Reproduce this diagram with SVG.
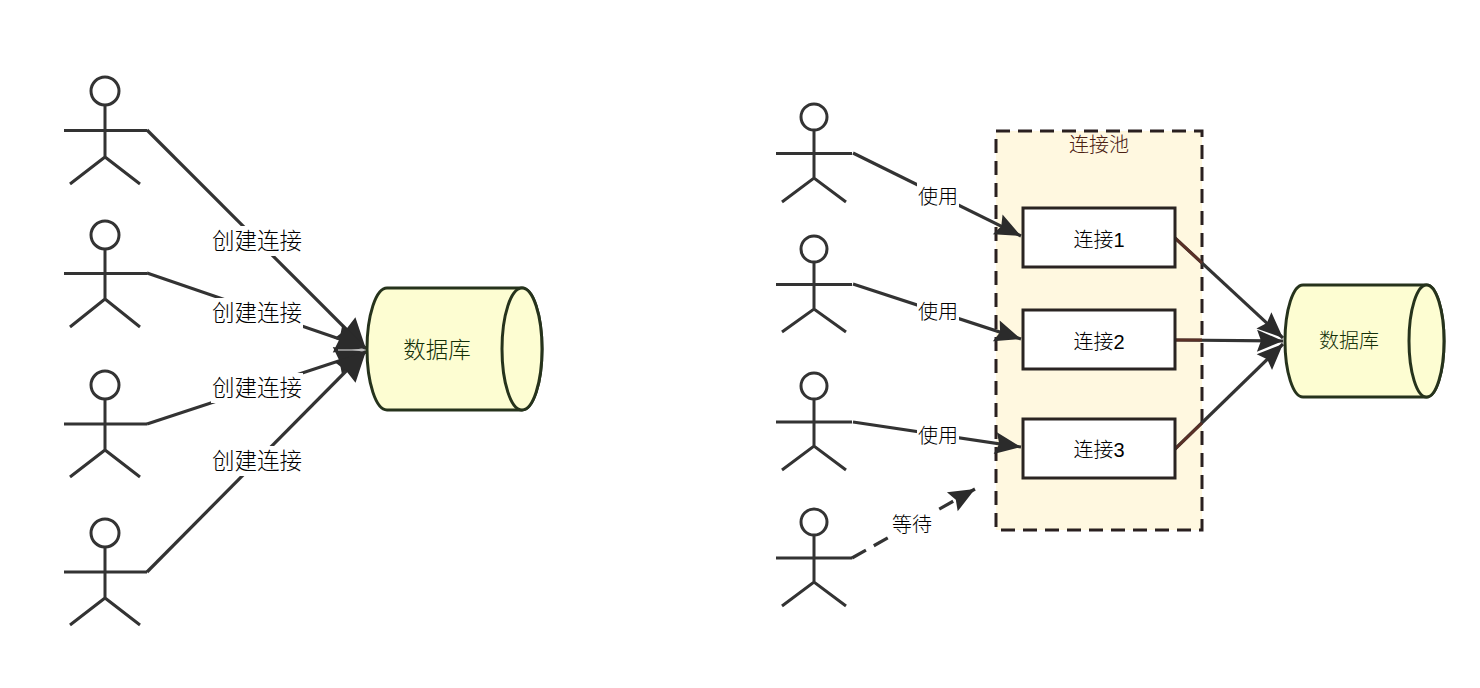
<svg xmlns="http://www.w3.org/2000/svg" width="1480" height="688" viewBox="0 0 1480 688">
<style>
text{font-family:"Liberation Sans","Noto Sans CJK SC",sans-serif;text-anchor:middle;fill:#000;font-weight:300}
.actor circle{fill:#fff;stroke:#333;stroke-width:3}
.actor path{fill:none;stroke:#333;stroke-width:3}
.conn{fill:none;stroke:#333;stroke-width:3.2}
.brown{fill:none;stroke:#5a3026;stroke-width:3}
.bg{fill:#fff}
.l22{font-size:22.500px}
.l20{font-size:20px}
.cyl{fill:#fdfdd2;stroke:#26331c;stroke-width:3}
.db{fill:#143008}
.box{fill:#fff;stroke:#2a2422;stroke-width:3}
</style>
<defs>
<marker id="headL" markerUnits="userSpaceOnUse" markerWidth="36" markerHeight="36" viewBox="0 0 36 36" refX="32" refY="18" orient="auto"><path d="M2 3L32 18L2 33L4 18Z" fill="#2b2b2b"/></marker>
<marker id="headR" markerUnits="userSpaceOnUse" markerWidth="30" markerHeight="28" viewBox="0 0 30 28" refX="27" refY="14" orient="auto"><path d="M1 3L27 14L1 25L5 14Z" fill="#2b2b2b"/></marker>
</defs>
<g id="pool">
<rect x="996" y="131" width="206" height="399" fill="#fff8e0" stroke="#2a2020" stroke-width="3" stroke-dasharray="14 8"/>
<text x="1099" y="152" class="l20" style="fill:#4a2012">连接池</text>
</g>
<g id="connectors">
<path class="conn" marker-end="url(#headL)" d="M147 130L366 349"/>
<path class="conn" marker-end="url(#headL)" d="M147 273L366 348"/>
<path class="conn" marker-end="url(#headL)" d="M147 424L366 352"/>
<path class="conn" marker-end="url(#headL)" d="M147 572L366 351"/>
<path d="M338 350H366" fill="none" stroke="#aaa" stroke-width="1.500"/>
<path class="conn" marker-end="url(#headR)" d="M853 153L1021 236"/>
<path class="conn" marker-end="url(#headR)" d="M853 284L1021 339"/>
<path class="conn" marker-end="url(#headR)" d="M853 422L1021 447"/>
<path class="conn" marker-end="url(#headR)" stroke-dasharray="16 9" d="M852 558L975 489"/>
<path class="conn" marker-end="url(#headR)" d="M1175 238L1283 338"/>
<path class="conn" marker-end="url(#headR)" d="M1175 340L1283 341"/>
<path class="conn" marker-end="url(#headR)" d="M1175 449L1283 344"/>
<path class="brown" d="M1175 238L1202 263M1175 340L1202 340M1175 449L1202 423"/>
<rect class="bg" x="211" y="226" width="92" height="30"/><text class="l22" x="257" y="249">创建连接</text>
<rect class="bg" x="211" y="298" width="92" height="30"/><text class="l22" x="257" y="321">创建连接</text>
<rect class="bg" x="211" y="373" width="92" height="30"/><text class="l22" x="257" y="396">创建连接</text>
<rect class="bg" x="211" y="446" width="92" height="30"/><text class="l22" x="257" y="469">创建连接</text>
<rect class="bg" x="917" y="182" width="42" height="28"/><text class="l20" x="938" y="204">使用</text>
<rect class="bg" x="917" y="299" width="42" height="27"/><text class="l20" x="938" y="319">使用</text>
<rect class="bg" x="917" y="422" width="42" height="27"/><text class="l20" x="938" y="443">使用</text>
<rect class="bg" x="891" y="510" width="42" height="30"/><text class="l20" x="912" y="532">等待</text>
</g>
<g id="actor-l1" class="actor"><circle cx="105" cy="91" r="14"/><path d="M64 130.500H147M105 105V157M70 184L105 157L140 184"/></g>
<g id="actor-l2" class="actor"><circle cx="105" cy="235" r="14"/><path d="M64 273.500H147M105 249V299M70 327L105 299L140 327"/></g>
<g id="actor-l3" class="actor"><circle cx="105" cy="385" r="14"/><path d="M64 424H147M105 399V450M70 477L105 450L140 477"/></g>
<g id="actor-l4" class="actor"><circle cx="105" cy="533" r="14"/><path d="M64 572H147M105 547V598M70 625L105 598L140 625"/></g>
<g id="actor-r1" class="actor"><circle cx="814" cy="117" r="13"/><path d="M776 153.500H852M814 130V178M782 202L814 178L846 202"/></g>
<g id="actor-r2" class="actor"><circle cx="814" cy="249" r="13"/><path d="M776 284.500H852M814 262V309M782 332L814 309L846 332"/></g>
<g id="actor-r3" class="actor"><circle cx="814" cy="386" r="13"/><path d="M776 422H852M814 399V446M782 470L814 446L846 470"/></g>
<g id="actor-r4" class="actor"><circle cx="814" cy="522" r="13"/><path d="M776 558H852M814 535V582M782 606L814 582L846 606"/></g>
<g id="db-left">
<path class="cyl" d="M387 288H522A20 61 0 0 1 522 410H387A20 61 0 0 1 387 288Z"/>
<ellipse class="cyl" cx="522" cy="349" rx="20" ry="61"/>
<text class="l22 db" x="437" y="358">数据库</text>
</g>
<g id="conn1"><rect class="box" x="1023" y="208" width="152" height="59"/><text class="l20" x="1099" y="247">连接1</text></g>
<g id="conn2"><rect class="box" x="1023" y="310" width="152" height="59"/><text class="l20" x="1099" y="349">连接2</text></g>
<g id="conn3"><rect class="box" x="1023" y="419" width="152" height="59"/><text class="l20" x="1099" y="457">连接3</text></g>
<g id="db-right">
<path class="cyl" d="M1303 285H1426.500A17.500 56 0 0 1 1426.500 397H1303A18 56 0 0 1 1303 285Z"/>
<ellipse class="cyl" cx="1426.500" cy="341" rx="17.500" ry="56"/>
<text class="l20 db" x="1349" y="348">数据库</text>
</g>
</svg>
